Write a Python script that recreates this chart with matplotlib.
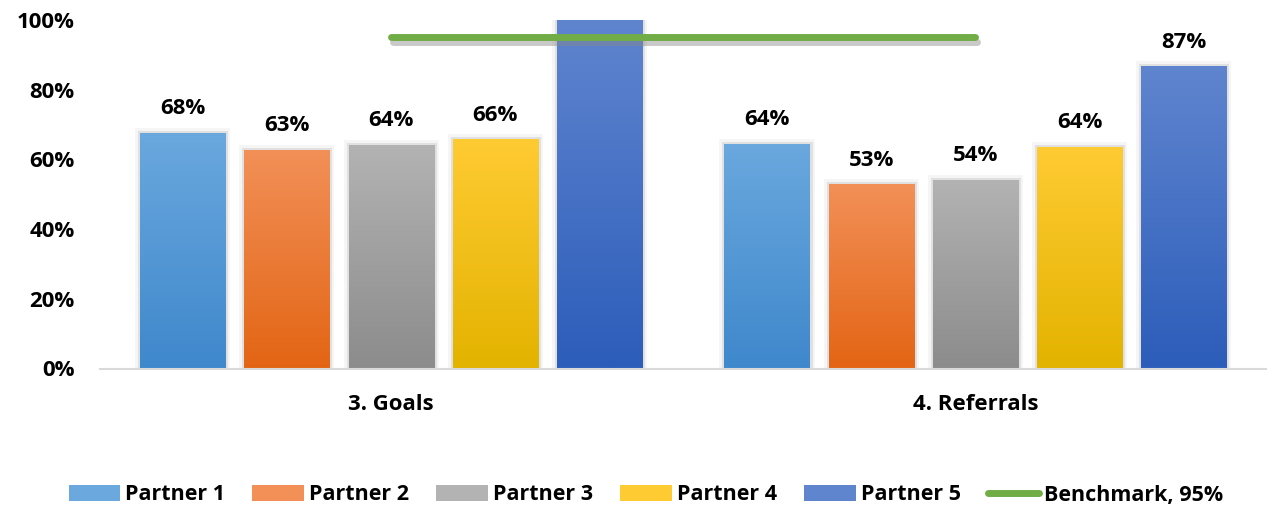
import matplotlib
matplotlib.use("Agg")
import matplotlib.pyplot as plt
import numpy as np
from matplotlib.colors import LinearSegmentedColormap
import matplotlib.patheffects as pe
from matplotlib.lines import Line2D
from matplotlib.patches import Rectangle

plt.rcParams['font.family'] = ['Open Sans', 'DejaVu Sans']
plt.rcParams['font.weight'] = 'bold'

categories = ["3. Goals", "4. Referrals"]
partners = ["Partner 1", "Partner 2", "Partner 3", "Partner 4", "Partner 5"]
values = {
    "Partner 1": [67.6, 64.4],
    "Partner 2": [62.7, 52.9],
    "Partner 3": [64.2, 54.1],
    "Partner 4": [65.8, 63.6],
    "Partner 5": [100.0, 86.7],
}
show_label = {
    "Partner 1": [True, True],
    "Partner 2": [True, True],
    "Partner 3": [True, True],
    "Partner 4": [True, True],
    "Partner 5": [False, True],
}
benchmark = [95, 95]
benchmark_label = "Benchmark, 95%"
yticks = [0, 20, 40, 60, 80, 100]

grad = {
    "Partner 1": ("#6aa8de", "#3f88cc"),
    "Partner 2": ("#f29058", "#e36514"),
    "Partner 3": ("#b3b3b3", "#8c8c8c"),
    "Partner 4": ("#ffcb33", "#e3b300"),
    "Partner 5": ("#6085cf", "#2c5dba"),
}

FS = 16

fig = plt.figure(figsize=(12.67, 5.15), dpi=100)
ax = fig.add_axes([99.5 / 1267, 1 - 368.5 / 515, (1266 - 99.5) / 1267, (368.5 - 20) / 515])

x = np.arange(len(categories))
slot = 104 / 583.0
width = 85 / 583.0

glow = [pe.Stroke(linewidth=7, foreground="#f5f5f5"),
        pe.Stroke(linewidth=3.5, foreground="#e0e0e0"),
        pe.Normal()]

for i, p in enumerate(partners):
    off = (i - 2) * slot
    top, bot = grad[p]
    cmap = LinearSegmentedColormap.from_list(p, [bot, top])
    bars = ax.bar(x + off, values[p], width, color=bot, zorder=2,
                  edgecolor="none", path_effects=glow)
    for j, b in enumerate(bars):
        x0, y0 = b.get_x(), b.get_y()
        w, h = b.get_width(), b.get_height()
        img = np.linspace(0, 1, 256).reshape(-1, 1)
        im = ax.imshow(img, cmap=cmap, origin="lower", aspect="auto",
                       extent=[x0, x0 + w, y0, y0 + h], zorder=3, interpolation="bilinear")
        im.set_clip_path(b)
        if show_label[p][j]:
            ax.text(b.get_x() + w / 2, h + 3.9, f"{values[p][j]:.0f}%",
                    ha="center", va="bottom", fontsize=FS, fontweight="bold", color="#000000")

ax.plot(x, benchmark, color="#70ad47", lw=5, solid_capstyle="round", zorder=4,
        path_effects=[pe.SimpleLineShadow(offset=(1.5, -3), shadow_color="#888888", alpha=0.45), pe.Normal()])

ax.set_xlim(-0.5 + 0.5 / 583, 1.5 - 1.5 / 583)
ax.set_ylim(0, 100)
ax.set_yticks(yticks)
ax.set_yticklabels([f"{t}%" for t in yticks], fontsize=FS, fontweight="bold")
ax.set_xticks(x)
ax.set_xticklabels(categories, fontsize=FS, fontweight="bold")
ax.tick_params(axis="both", length=0)
ax.tick_params(axis="y", pad=18)
ax.tick_params(axis="x", pad=18)
for s in ["top", "right", "left"]:
    ax.spines[s].set_visible(False)
ax.spines["bottom"].set_color("#d9d9d9")
ax.spines["bottom"].set_linewidth(1.5)
ax.spines["bottom"].set_zorder(5)

handles = [Rectangle((0, 0), 1, 1, facecolor=grad[p][0], edgecolor="none") for p in partners]
handles.append(Line2D([0], [0], color="#70ad47", lw=5, solid_capstyle="round"))
labels = partners + [benchmark_label]
LFS = 15.5
leg = fig.legend(handles, labels, loc="center", bbox_to_anchor=(646 / 1267, 1 - 495 / 515), ncol=6,
                 frameon=False, handlelength=2.41, handleheight=0.7,
                 handletextpad=0.23, columnspacing=1.25, prop={"weight": "bold", "size": LFS})

fig.savefig("out.png", dpi=100)
